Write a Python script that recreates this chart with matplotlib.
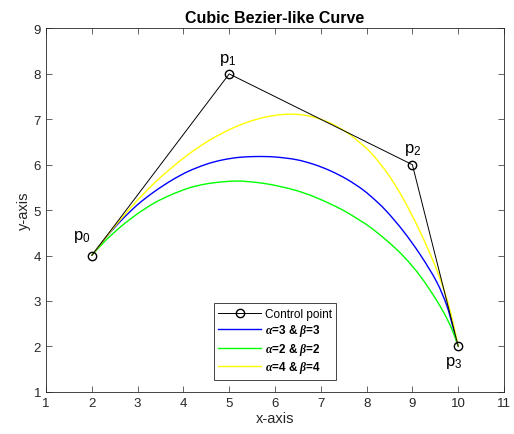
import matplotlib
matplotlib.use("Agg")
import matplotlib.pyplot as plt
import numpy as np
from matplotlib.path import Path
from matplotlib.patches import PathPatch
from matplotlib.lines import Line2D

plt.rcParams['font.family'] = ['Liberation Sans', 'DejaVu Sans']
plt.rcParams['mathtext.fontset'] = 'custom'
plt.rcParams['mathtext.rm'] = 'Liberation Sans'
plt.rcParams['mathtext.it'] = 'Liberation Serif:style=italic:weight=bold'
plt.rcParams['mathtext.bf'] = 'Liberation Sans:weight=bold'

# Control points
ctrl_x = [2, 5, 9, 10]
ctrl_y = [4, 8, 6, 2]
ctrl_labels = ['p$_0$', 'p$_1$', 'p$_2$', 'p$_3$']

# Curve alpha=3, beta=3 (blue)
blue_x = [2.00, 2.30, 2.65, 3.00, 3.37, 3.75, 4.10, 4.50, 4.83, 5.20, 5.60, 6.00,
          6.47, 6.84, 7.20, 7.57, 7.93, 8.22, 8.44, 8.80, 9.17, 9.53, 9.75, 9.89, 10.00]
blue_y = [4.00, 4.39, 4.78, 5.12, 5.41, 5.66, 5.85, 6.01, 6.10, 6.16, 6.18, 6.17,
          6.11, 6.01, 5.87, 5.68, 5.44, 5.19, 4.97, 4.54, 4.02, 3.42, 2.90, 2.41, 2.00]

# Curve alpha=2, beta=2 (green)
green_x = [2.00, 2.30, 2.65, 3.00, 3.37, 3.74, 4.10, 4.46, 4.83, 5.19, 5.38, 5.75,
           6.11, 6.47, 6.84, 7.20, 7.50, 7.86, 8.07, 8.44, 8.80, 9.17, 9.53, 9.75, 9.89, 10.00]
green_y = [4.00, 4.33, 4.65, 4.92, 5.16, 5.34, 5.48, 5.57, 5.62, 5.64, 5.63, 5.59,
           5.52, 5.43, 5.30, 5.14, 4.99, 4.77, 4.63, 4.33, 3.99, 3.55, 3.01, 2.62, 2.31, 2.00]

# Curve alpha=4, beta=4 (yellow)
yellow_x = [2.00, 2.30, 2.65, 3.00, 3.37, 3.74, 4.10, 4.57, 5.02, 5.38, 5.75, 6.11,
            6.47, 6.84, 7.20, 7.57, 7.93, 8.07, 8.29, 8.51, 8.80, 9.17, 9.53, 9.75, 9.89, 10.00]
yellow_y = [4.00, 4.39, 4.82, 5.22, 5.60, 5.93, 6.22, 6.54, 6.78, 6.93, 7.04, 7.10,
            7.11, 7.05, 6.92, 6.71, 6.42, 6.29, 6.03, 5.73, 5.25, 4.52, 3.69, 3.05, 2.51, 2.00]

series = [
    (blue_x, blue_y, (0, 0, 1), r'$\alpha$=3 & $\beta$=3'),
    (green_x, green_y, (0, 1, 0), r'$\alpha$=2 & $\beta$=2'),
    (yellow_x, yellow_y, (1, 1, 0), r'$\alpha$=4 & $\beta$=4'),
]

x_ticks = list(range(1, 12))
y_ticks = list(range(1, 10))


def smooth_path(xs, ys):
    """Smooth path through the given points (chord-length Hermite segments)."""
    p = np.column_stack([xs, ys]).astype(float)
    n = len(p)
    d = np.linalg.norm(np.diff(p, axis=0), axis=1)
    t = np.concatenate([[0], np.cumsum(d)])
    m = np.zeros_like(p)
    m[0] = (p[1] - p[0]) / (t[1] - t[0])
    m[-1] = (p[-1] - p[-2]) / (t[-1] - t[-2])
    for i in range(1, n - 1):
        m[i] = (p[i + 1] - p[i - 1]) / (t[i + 1] - t[i - 1])
    verts = [p[0]]
    codes = [Path.MOVETO]
    for i in range(n - 1):
        h = t[i + 1] - t[i]
        verts += [p[i] + m[i] * h / 3, p[i + 1] - m[i + 1] * h / 3, p[i + 1]]
        codes += [Path.CURVE4] * 3
    return Path(verts, codes)


fig = plt.figure(figsize=(5.14, 4.35), dpi=100)
ax = fig.add_axes([0.0895, 0.0972, 0.891, 0.835])

ax.plot(ctrl_x, ctrl_y, color='black', lw=0.7, marker='o', markersize=6,
        markerfacecolor='none', markeredgecolor='black', markeredgewidth=1.0,
        zorder=3)
handles = [Line2D([], [], color='black', lw=0.7, marker='o', markersize=6,
                  markerfacecolor='none', markeredgecolor='black', markeredgewidth=1.0)]
labels = ['Control point']
for xs, ys, c, lab in series:
    ax.add_patch(PathPatch(smooth_path(xs, ys), facecolor='none', edgecolor=c,
                           lw=1.0, zorder=2))
    handles.append(Line2D([], [], color=c, lw=1.0))
    labels.append(lab)

label_pos = [(1.79, 4.42), (4.97, 8.33), (9.01, 6.35), (9.91, 1.65)]
for (lx, ly), t in zip(label_pos, ctrl_labels):
    ax.text(lx, ly, t, fontsize=12, ha='center', va='center', color='black')

ax.set_xlim(1, 11)
ax.set_ylim(1, 9)
ax.set_xticks(x_ticks)
ax.set_yticks(y_ticks)
ax.tick_params(direction='in', length=4.5, width=0.5, labelsize=9.5,
               top=True, right=True, colors='0.15', labelcolor='0.15')
for s in ax.spines.values():
    s.set_linewidth(0.6)
    s.set_color('0.15')

ax.set_title('Cubic Bezier-like Curve', fontsize=11.5, fontweight='bold', pad=5)
ax.set_xlabel('x-axis', fontsize=10.5, color='0.15', labelpad=2)
ax.set_ylabel('y-axis', fontsize=10.5, color='0.15', labelpad=2)

leg = ax.legend(handles, labels, loc='lower center', bbox_to_anchor=(0.5, 0.033),
                borderaxespad=0, fancybox=False, framealpha=1, edgecolor='0.15',
                prop={'size': 8.5, 'weight': 'bold'}, handlelength=3.6,
                labelspacing=0.2, borderpad=0.4, handletextpad=0.3)
leg.get_frame().set_linewidth(0.6)
leg.get_texts()[0].set_fontweight('normal')

fig.savefig('out.png', dpi=100)
